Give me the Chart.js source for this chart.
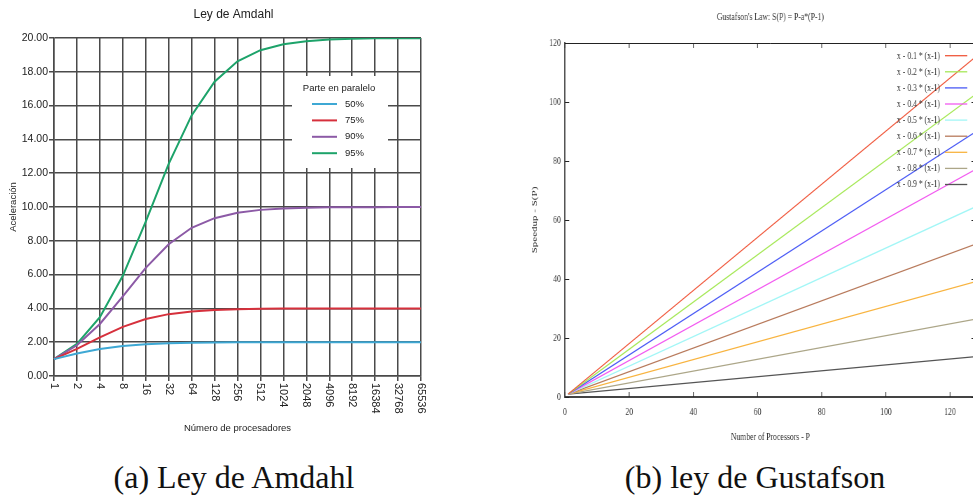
<!DOCTYPE html>
<html lang="es">
<head>
<meta charset="UTF-8">
<title>Ley de Amdahl y ley de Gustafson</title>
<script src="https://cdn.jsdelivr.net/npm/chart.js"></script>
<style>
  html, body { margin: 0; padding: 0; background: #fff; }
  body { width: 973px; height: 500px; overflow: hidden; position: relative; }
  #cajaA { position: absolute; left: 0; top: 0; }
  /* la figura de gnuplot viene comprimida en horizontal */
  #cajaB { position: absolute; left: 520px; top: 0; transform: scaleX(0.7); transform-origin: 0 0; }
  .pie {
    position: absolute; top: 461px;
    font-family: 'Liberation Serif', 'Times New Roman', serif;
    font-size: 32px; line-height: 32px; color: #111;
    white-space: nowrap; transform: translateX(-50%);
  }
</style>
</head>
<body>

<div id="cajaA"><canvas id="amdahl" width="440" height="445"></canvas></div>
<div id="cajaB"><canvas id="gustafson" width="714" height="450"></canvas></div>

<div class="pie" style="left:234px">(a) Ley de Amdahl</div>
<div class="pie" style="left:755px">(b) ley de Gustafson</div>

<script>
// --- Ley de Amdahl ---
const procesadores = ['1', '2', '4', '8', '16', '32', '64', '128', '256', '512',
    '1024', '2048', '4096', '8192', '16384', '32768', '65536'];
const partesParalelo = ['50%', '75%', '90%', '95%'];
const acel50 = [1.00, 1.33, 1.60, 1.78, 1.88, 1.94, 1.97, 1.98, 1.99, 2.00, 2.00, 2.00, 2.00, 2.00, 2.00, 2.00, 2.00];
const acel75 = [1.00, 1.60, 2.29, 2.91, 3.37, 3.66, 3.82, 3.91, 3.95, 3.98, 3.99, 3.99, 4.00, 4.00, 4.00, 4.00, 4.00];
const acel90 = [1.00, 1.82, 3.08, 4.71, 6.40, 7.80, 8.77, 9.34, 9.66, 9.83, 9.91, 9.96, 9.98, 9.99, 9.99, 10.00, 10.00];
const acel95 = [1.00, 1.90, 3.48, 5.93, 9.14, 12.55, 15.42, 17.41, 18.62, 19.28, 19.63, 19.81, 19.91, 19.95, 19.98, 19.99, 19.99];

// --- Ley de Gustafson ---
const procesadoresP = [1, 128];
const factoresA = ['0.1', '0.2', '0.3', '0.4', '0.5', '0.6', '0.7', '0.8', '0.9'];
const speedupInicio = [1, 1, 1, 1, 1, 1, 1, 1, 1];
const speedupFinal = [115.3, 102.6, 89.9, 77.2, 64.5, 51.8, 39.1, 26.4, 13.7];

const coloresAmdahl = ['#3ea8d4', '#d6303c', '#8c5aa6', '#1da36a'];
const coloresGustafson = ['#f0583c', '#a6e858', '#4a5af5', '#f25af0', '#a2f6f6',
    '#b87a5c', '#f8b440', '#aca688', '#555555'];

const sans = '"Liberation Sans", Arial, sans-serif';
const serif = '"Liberation Serif", "Times New Roman", serif';

// titulo centrado sobre el area del grafico
const tituloCentrado = {
    id: 'tituloCentrado',
    afterDraw(chart, args, opts) {
        const {ctx, chartArea} = chart;
        ctx.save();
        ctx.font = opts.font;
        ctx.fillStyle = opts.color;
        ctx.textAlign = 'center';
        ctx.textBaseline = 'middle';
        ctx.fillText(opts.text, (chartArea.left + chartArea.right) / 2 + (opts.dx || 0), opts.y);
        ctx.restore();
    }
};

// etiquetas del eje x giradas en sentido horario
const etiquetasVerticales = {
    id: 'etiquetasVerticales',
    afterDraw(chart) {
        const {ctx} = chart;
        const escala = chart.scales.x;
        ctx.save();
        ctx.font = '11px ' + sans;
        ctx.fillStyle = '#222';
        ctx.textAlign = 'left';
        ctx.textBaseline = 'middle';
        escala.ticks.forEach((t, i) => {
            ctx.save();
            ctx.translate(escala.getPixelForTick(i), escala.top + 7);
            ctx.rotate(Math.PI / 2);
            ctx.fillText(escala.getLabelForValue(t.value), 0, 0);
            ctx.restore();
        });
        ctx.restore();
    }
};

const leyendaAmdahl = {
    id: 'leyendaAmdahl',
    beforeDatasetsDraw(chart) {
        const {ctx, chartArea} = chart;
        const x0 = chartArea.right - 129, y0 = chartArea.top + 38;
        ctx.save();
        ctx.fillStyle = '#fff';
        ctx.fillRect(x0, y0, 96, 92);
        ctx.font = '9.5px ' + sans;
        ctx.fillStyle = '#222';
        ctx.textBaseline = 'middle';
        ctx.textAlign = 'center';
        ctx.fillText('Parte en paralelo', x0 + 47, y0 + 12);
        ctx.textAlign = 'left';
        chart.data.datasets.forEach((ds, i) => {
            const y = y0 + 28 + i * 16.4;
            ctx.strokeStyle = ds.borderColor;
            ctx.lineWidth = 2;
            ctx.beginPath();
            ctx.moveTo(x0 + 20, y);
            ctx.lineTo(x0 + 45, y);
            ctx.stroke();
            ctx.fillText(ds.label, x0 + 53, y);
        });
        ctx.restore();
    }
};

new Chart(document.getElementById('amdahl'), {
    type: 'line',
    data: {
        labels: procesadores,
        datasets: [acel50, acel75, acel90, acel95].map((serie, i) => ({
            label: partesParalelo[i],
            data: serie,
            borderColor: coloresAmdahl[i],
            borderWidth: 2,
            pointRadius: 0,
            tension: 0
        }))
    },
    options: {
        responsive: false,
        animation: false,
        layout: { padding: { top: 38, right: 19, left: 0, bottom: 0 } },
        plugins: {
            legend: { display: false },
            tooltip: { enabled: false },
            tituloCentrado: { text: 'Ley de Amdahl', font: '12px ' + sans, color: '#222', y: 15, dx: -4 }
        },
        scales: {
            x: {
                grid: { color: '#4a4a4a', lineWidth: 1.5, tickLength: 5 },
                border: { color: '#4a4a4a', width: 1.5 },
                ticks: { color: 'transparent', autoSkip: false, minRotation: 90, maxRotation: 90, font: { family: sans, size: 11 } },
                title: { display: true, text: 'Número de procesadores', color: '#222', font: { family: sans, size: 9.5 }, padding: { top: 0, bottom: 11 } },
                afterFit(scale) { scale.height = 69; }
            },
            y: {
                min: 0,
                max: 20,
                grid: { color: '#4a4a4a', lineWidth: 1.5, tickLength: 5 },
                border: { color: '#4a4a4a', width: 1.5 },
                ticks: { stepSize: 2, padding: 1, color: '#222', font: { family: sans, size: 10.5 }, callback: v => v.toFixed(2) },
                title: { display: true, text: 'Aceleración', color: '#222', font: { family: sans, size: 9.5 }, padding: { top: 8, bottom: 0 } },
                afterFit(scale) { scale.width = 54; }
            }
        }
    },
    plugins: [tituloCentrado, etiquetasVerticales, leyendaAmdahl]
});

// marco de gnuplot: borde superior y marcas hacia dentro
const marcoGnuplot = {
    id: 'marcoGnuplot',
    afterDatasetsDraw(chart) {
        const {ctx, chartArea: a, scales: {x, y}} = chart;
        ctx.save();
        ctx.strokeStyle = '#222';
        ctx.lineWidth = 1;
        ctx.beginPath();
        ctx.moveTo(a.left, a.top + 0.5);
        ctx.lineTo(a.right, a.top + 0.5);
        x.ticks.forEach(t => {
            const px = x.getPixelForValue(t.value);
            ctx.moveTo(px, a.bottom);
            ctx.lineTo(px, a.bottom - 5);
            ctx.moveTo(px, a.top);
            ctx.lineTo(px, a.top + 5);
        });
        y.ticks.forEach(t => {
            const py = Math.round(y.getPixelForValue(t.value)) + 0.5;
            ctx.moveTo(a.left, py);
            ctx.lineTo(a.left + 6, py);
            ctx.moveTo(a.right, py);
            ctx.lineTo(a.right - 6, py);
        });
        ctx.stroke();
        ctx.restore();
    }
};

const leyendaGustafson = {
    id: 'leyendaGustafson',
    afterDatasetsDraw(chart) {
        const {ctx, chartArea: a} = chart;
        ctx.save();
        ctx.font = '11px ' + serif;
        ctx.fillStyle = '#333';
        ctx.textAlign = 'right';
        ctx.textBaseline = 'middle';
        chart.data.datasets.forEach((ds, i) => {
            const y = a.top + 12.7 + i * 16.1;
            ctx.fillText(ds.label, a.right - 51, y);
            ctx.strokeStyle = ds.borderColor;
            ctx.lineWidth = 1.3;
            ctx.beginPath();
            ctx.moveTo(a.right - 44, y);
            ctx.lineTo(a.right - 12, y);
            ctx.stroke();
        });
        ctx.restore();
    }
};

new Chart(document.getElementById('gustafson'), {
    type: 'line',
    data: {
        datasets: factoresA.map((a, i) => ({
            label: 'x - ' + a + ' * (x-1)',
            data: [
                { x: procesadoresP[0], y: speedupInicio[i] },
                { x: procesadoresP[1], y: speedupFinal[i] }
            ],
            borderColor: coloresGustafson[i],
            borderWidth: 1.3,
            pointRadius: 0,
            tension: 0
        }))
    },
    options: {
        responsive: false,
        animation: false,
        layout: { padding: { top: 43, right: 63, left: 0, bottom: 0 } },
        plugins: {
            legend: { display: false },
            tooltip: { enabled: false },
            tituloCentrado: { text: "Gustafson's Law: S(P) = P-a*(P-1)", font: '11px ' + serif, color: '#333', y: 17 }
        },
        scales: {
            x: {
                type: 'linear',
                min: 0,
                max: 128,
                grid: { display: false, drawTicks: false },
                border: { color: '#444', width: 2 },
                ticks: { stepSize: 20, padding: 9, color: '#333', font: { family: serif, size: 11 } },
                afterBuildTicks(scale) { scale.ticks = scale.ticks.filter(t => t.value % 20 === 0); },
                title: { display: true, text: 'Number of Processors - P', color: '#333', font: { family: serif, size: 11 }, padding: { top: 0, bottom: 6.4 } },
                afterFit(scale) { scale.height = 53; }
            },
            y: {
                min: 0,
                max: 120,
                grid: { display: false, drawTicks: false },
                border: { color: '#555', width: 2 },
                ticks: { stepSize: 20, padding: 6, color: '#333', font: { family: serif, size: 11 } },
                title: { display: true, text: 'Speedup - S(P)', color: '#333', font: { family: serif, size: 11 }, padding: { top: 14.8, bottom: 0 } },
                afterFit(scale) { scale.width = 64.3; }
            }
        }
    },
    plugins: [tituloCentrado, marcoGnuplot, leyendaGustafson]
});
</script>

</body>
</html>
